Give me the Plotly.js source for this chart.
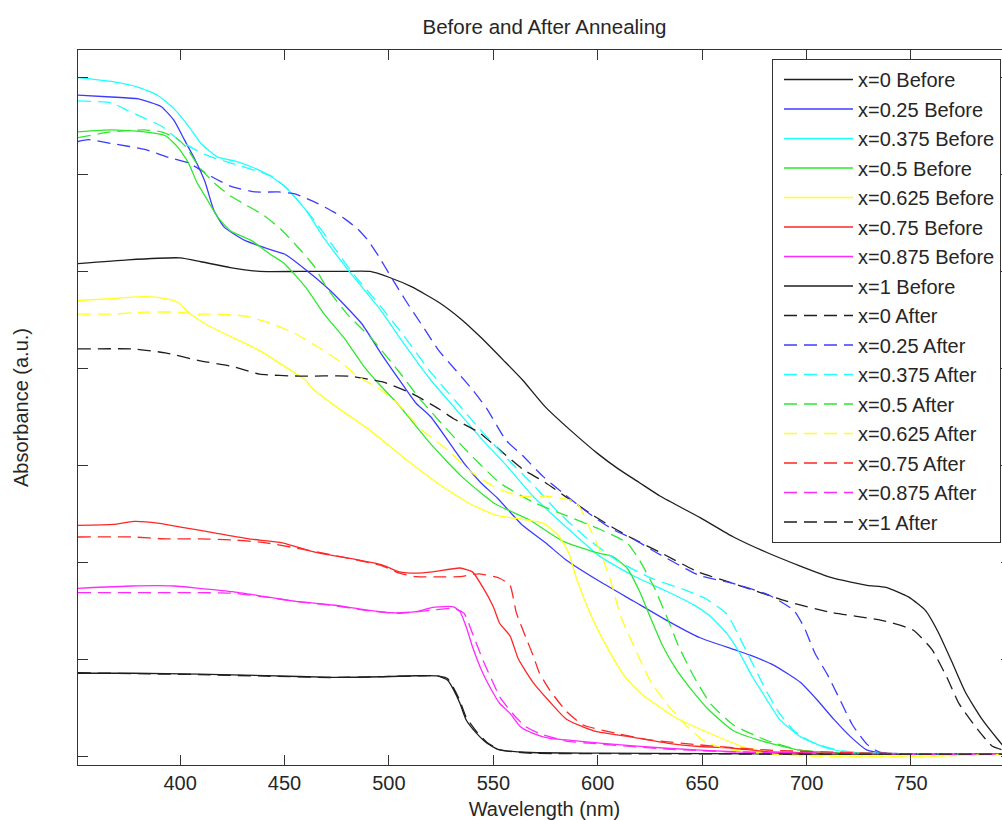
<!DOCTYPE html>
<html>
<head>
<meta charset="utf-8">
<script src="https://cdn.plot.ly/plotly-3.0.1.min.js"></script>
<style>
  html, body { margin: 0; padding: 0; overflow: hidden; background: #fff; }
  #chart { width: 1016px; height: 820px; }
</style>
</head>
<body>
<div id="chart"></div>
<script>
// ---- Data (wavelength in nm, absorbance in a.u.) ----
const seriesNames = ['x=0 Before','x=0.25 Before','x=0.375 Before','x=0.5 Before','x=0.625 Before','x=0.75 Before','x=0.875 Before','x=1 Before',
                     'x=0 After','x=0.25 After','x=0.375 After','x=0.5 After','x=0.625 After','x=0.75 After','x=0.875 After','x=1 After'];

const x0Before_nm  = [351,375,400,410,424,438,457,476,491,500,511,524,535,544,555,564,575,587,600,610,620,630,649,665,681,697,712,729,738,749,757,763,769,776,784,792,796,798];
const x0Before_abs = [2.54,2.56,2.57,2.55,2.52,2.50,2.50,2.50,2.50,2.47,2.42,2.34,2.25,2.16,2.04,1.94,1.80,1.68,1.56,1.48,1.41,1.34,1.23,1.13,1.05,0.98,0.92,0.88,0.87,0.82,0.75,0.64,0.50,0.33,0.19,0.08,0.03,0.02];

const x025Before_nm  = [351,367,380,391,397,402,407,412,416,421,431,444,450,460,472,487,496,505,513,520,536,544,552,564,575,585,601,617,633,649,665,673,684,697,705,713,721,729,737,760,798];
const x025Before_abs = [3.41,3.40,3.39,3.35,3.28,3.18,3.08,2.96,2.82,2.73,2.66,2.61,2.59,2.51,2.40,2.23,2.08,1.94,1.82,1.75,1.51,1.41,1.33,1.19,1.10,1.01,0.90,0.80,0.70,0.61,0.55,0.52,0.47,0.38,0.29,0.19,0.10,0.03,0.015,0.01,0.01];

const x0375Before_nm  = [351,367,380,389,397,404,410,418,426,434,442,450,460,469,481,496,507,520,532,544,557,569,585,601,617,633,646,654,662,668,674,681,687,697,710,720,760,798];
const x0375Before_abs = [3.50,3.48,3.45,3.41,3.34,3.25,3.16,3.09,3.07,3.04,3.00,2.94,2.82,2.67,2.50,2.30,2.13,1.94,1.79,1.64,1.49,1.34,1.18,1.03,0.93,0.85,0.78,0.72,0.63,0.53,0.41,0.29,0.19,0.10,0.04,0.02,0.01,0.01];

const x05Before_nm  = [351,367,383,393,399,404,408,413,418,424,434,443,450,460,469,479,488,496,504,520,535,551,567,583,599,607,614,620,625,631,638,645,653,665,681,697,720,798];
const x05Before_abs = [3.22,3.23,3.22,3.20,3.14,3.06,2.96,2.87,2.78,2.71,2.66,2.59,2.54,2.42,2.28,2.15,2.01,1.91,1.82,1.61,1.44,1.30,1.22,1.11,1.05,1.03,0.97,0.85,0.72,0.57,0.44,0.34,0.24,0.13,0.07,0.03,0.015,0.01];

const x0625Before_nm  = [351,367,383,393,399,405,412,421,431,440,450,460,463,475,491,507,523,539,552,565,574,581,586,590,597,605,613,621,637,653,669,685,720,760,798];
const x0625Before_abs = [2.35,2.36,2.37,2.36,2.34,2.28,2.23,2.18,2.13,2.08,2.01,1.94,1.90,1.80,1.68,1.54,1.41,1.30,1.24,1.22,1.20,1.14,1.05,0.91,0.72,0.55,0.41,0.32,0.20,0.12,0.05,0.014,0.0,0.0,0.01];

const x075Before_nm  = [351,368,378,390,401,417,433,449,465,481,497,505,513,521,534,540,545,550,553,558,562,569,577,585,598,615,633,649,665,681,711,760,798];
const x075Before_abs = [1.19,1.195,1.21,1.20,1.18,1.15,1.12,1.10,1.05,1.02,0.985,0.95,0.943,0.95,0.97,0.95,0.87,0.77,0.685,0.62,0.50,0.38,0.28,0.19,0.13,0.10,0.067,0.049,0.04,0.022,0.015,0.01,0.01];

const x0875Before_nm  = [351,377,397,409,425,441,457,473,489,502,513,521,531,534,537,540,545,550,553,558,563,569,577,585,601,633,665,697,760,798];
const x0875Before_abs = [0.865,0.877,0.877,0.865,0.848,0.822,0.796,0.779,0.754,0.739,0.745,0.767,0.770,0.745,0.667,0.564,0.427,0.324,0.272,0.220,0.151,0.117,0.091,0.083,0.066,0.040,0.022,0.015,0.01,0.01];

const x1Before_nm  = [351,377,409,441,473,497,513,523,528,531,534,537,542,547,553,568,601,700,798];
const x1Before_abs = [0.427,0.427,0.422,0.415,0.406,0.409,0.414,0.413,0.392,0.341,0.272,0.186,0.117,0.066,0.031,0.018,0.015,0.01,0.01];

const x0After_nm  = [351,377,393,409,425,438,457,481,492,497,511,524,531,543,553,564,575,587,598,607,617,630,648,665,690,712,736,751,760,767,773,781,789,798];
const x0After_abs = [2.10,2.10,2.08,2.04,2.01,1.97,1.96,1.96,1.94,1.93,1.87,1.79,1.74,1.67,1.58,1.48,1.41,1.32,1.24,1.18,1.12,1.05,0.95,0.89,0.80,0.74,0.70,0.65,0.55,0.41,0.27,0.15,0.05,0.02];

const x025After_nm  = [351,356,367,383,394,404,415,424,436,447,455,466,473,479,485,490,495,500,508,516,524,532,540,547,556,564,574,583,596,607,617,628,649,665,682,694,699,704,710,716,722,729,735,760,798];
const x025After_abs = [3.17,3.18,3.16,3.13,3.09,3.06,2.99,2.94,2.91,2.91,2.90,2.85,2.81,2.77,2.72,2.66,2.58,2.49,2.35,2.22,2.09,1.99,1.89,1.79,1.63,1.55,1.44,1.36,1.25,1.17,1.12,1.05,0.93,0.89,0.83,0.75,0.66,0.53,0.42,0.29,0.16,0.06,0.02,0.01,0.01];

const x0375After_nm  = [351,367,375,383,391,399,407,415,424,436,444,452,463,472,482,496,507,520,532,544,557,569,580,593,609,625,641,652,662,668,674,681,687,694,703,715,730,798];
const x0375After_abs = [3.38,3.37,3.33,3.29,3.25,3.18,3.13,3.09,3.06,3.02,2.99,2.92,2.78,2.65,2.50,2.32,2.17,1.98,1.83,1.68,1.53,1.40,1.27,1.14,1.01,0.92,0.86,0.81,0.73,0.61,0.48,0.33,0.22,0.13,0.07,0.03,0.015,0.01];

const x05After_nm  = [351,367,383,391,398,403,409,416,424,432,440,448,456,464,470,480,492,505,515,535,553,569,585,601,614,620,627,633,639,646,654,665,681,697,720,798];
const x05After_abs = [3.19,3.22,3.23,3.22,3.19,3.14,3.04,2.96,2.89,2.84,2.79,2.72,2.63,2.53,2.42,2.28,2.15,1.98,1.84,1.60,1.41,1.31,1.24,1.17,1.10,1.01,0.87,0.72,0.56,0.41,0.27,0.16,0.08,0.03,0.015,0.01];

const x0625After_nm  = [351,367,383,399,407,418,431,444,455,466,476,485,496,504,516,528,540,552,563,576,587,591,596,601,606,611,618,625,633,643,652,665,690,720,760,798];
const x0625After_abs = [2.28,2.28,2.29,2.29,2.28,2.28,2.27,2.23,2.18,2.11,2.04,1.96,1.89,1.82,1.68,1.58,1.46,1.38,1.34,1.34,1.32,1.29,1.18,1.06,0.91,0.72,0.55,0.39,0.27,0.15,0.07,0.03,0.005,-0.005,0.0,0.01];

const x075After_nm  = [351,377,393,409,425,441,457,481,497,505,513,524,534,543,553,558,561,566,569,572,577,585,593,609,625,649,681,711,760,798];
const x075After_abs = [1.13,1.13,1.12,1.12,1.115,1.10,1.07,1.02,0.98,0.943,0.925,0.924,0.925,0.94,0.917,0.88,0.74,0.60,0.52,0.43,0.34,0.23,0.16,0.117,0.083,0.057,0.031,0.02,0.01,0.01];

const x0875After_nm  = [351,393,425,441,457,473,489,505,521,531,536,540,545,550,553,559,565,572,585,601,633,665,697,760,798];
const x0875After_abs = [0.843,0.843,0.840,0.820,0.795,0.777,0.751,0.736,0.753,0.762,0.736,0.633,0.495,0.375,0.306,0.222,0.155,0.116,0.077,0.062,0.036,0.021,0.015,0.01,0.01];

const x1After_nm  = [351,377,409,441,473,497,513,523,528,531,534,537,542,547,553,567,601,700,798];
const x1After_abs = [0.43,0.425,0.42,0.412,0.405,0.41,0.413,0.414,0.40,0.35,0.285,0.20,0.125,0.07,0.033,0.015,0.012,0.01,0.01];

const xTickVals = [400,450,500,550,600,650,700,750];

// ---- Styles ----
const seriesColors = ['#1e1e1e','#3c3cff','#1effff','#2ee82e','#ffff1e','#ff2626','#ff2aff','#1e1e1e'];

const beforeX = [x0Before_nm,x025Before_nm,x0375Before_nm,x05Before_nm,x0625Before_nm,x075Before_nm,x0875Before_nm,x1Before_nm];
const beforeY = [x0Before_abs,x025Before_abs,x0375Before_abs,x05Before_abs,x0625Before_abs,x075Before_abs,x0875Before_abs,x1Before_abs];
const afterX  = [x0After_nm,x025After_nm,x0375After_nm,x05After_nm,x0625After_nm,x075After_nm,x0875After_nm,x1After_nm];
const afterY  = [x0After_abs,x025After_abs,x0375After_abs,x05After_abs,x0625After_abs,x075After_abs,x0875After_abs,x1After_abs];

const traces = [];
for (let i = 0; i < 8; i++) {
  traces.push({
    x: beforeX[i], y: beforeY[i], name: seriesNames[i], type: 'scatter', mode: 'lines',
    line: {color: seriesColors[i], width: 1.3, shape: 'spline', smoothing: 0.5},
    legendgroup: 'g' + i
  });
}
for (let i = 0; i < 8; i++) {
  traces.push({
    x: afterX[i], y: afterY[i], name: seriesNames[8 + i], type: 'scatter', mode: 'lines',
    line: {color: seriesColors[i], width: 1.3, dash: '13px,7px', shape: 'spline', smoothing: 0.5},
    legendgroup: 'g' + (8 + i)
  });
}

const axisColor = '#333333';
const layout = {
  width: 1016, height: 820,
  margin: {l: 78, r: 5, t: 50, b: 55, pad: 0},
  paper_bgcolor: '#ffffff', plot_bgcolor: '#ffffff',
  font: {family: '"Liberation Sans", Arial, sans-serif', size: 20, color: '#262626'},
  title: {text: 'Before and After Annealing', x: 0.5, xref: 'paper', xanchor: 'center',
          y: 0.967, yref: 'container', yanchor: 'middle', font: {size: 20.5, color: '#262626'}},
  xaxis: {
    range: [351.1, 797.9], tickvals: xTickVals, ticktext: xTickVals.map(String),
    ticks: 'inside', ticklen: 10, tickwidth: 1, tickcolor: axisColor,
    showline: true, linecolor: axisColor, linewidth: 1, mirror: 'ticks',
    showgrid: false, zeroline: false, automargin: false,
    tickfont: {size: 20, color: '#262626'},
    title: {text: 'Wavelength (nm)', standoff: 10, font: {size: 20, color: '#262626'}}
  },
  yaxis: {
    range: [-0.0464, 3.6424], tick0: 0, dtick: 0.5,
    ticks: 'inside', ticklen: 10, tickwidth: 1, tickcolor: axisColor,
    showticklabels: false,
    showline: true, linecolor: axisColor, linewidth: 1, mirror: 'ticks',
    showgrid: false, zeroline: false, automargin: false,
    title: {text: 'Absorbance (a.u.)', standoff: 43, font: {size: 20, color: '#262626'}}
  },
  legend: {
    x: 0.98928, xanchor: 'right', xref: 'paper',
    y: 0.9874, yanchor: 'top', yref: 'paper',
    bgcolor: '#ffffff', bordercolor: axisColor, borderwidth: 1,
    font: {size: 20, color: '#262626'},
    itemwidth: 69, indentation: 6, tracegroupgap: 0.5, traceorder: 'grouped'
  },
  showlegend: true
};

Plotly.newPlot('chart', traces, layout, {displayModeBar: false, staticPlot: true});
</script>
</body>
</html>
